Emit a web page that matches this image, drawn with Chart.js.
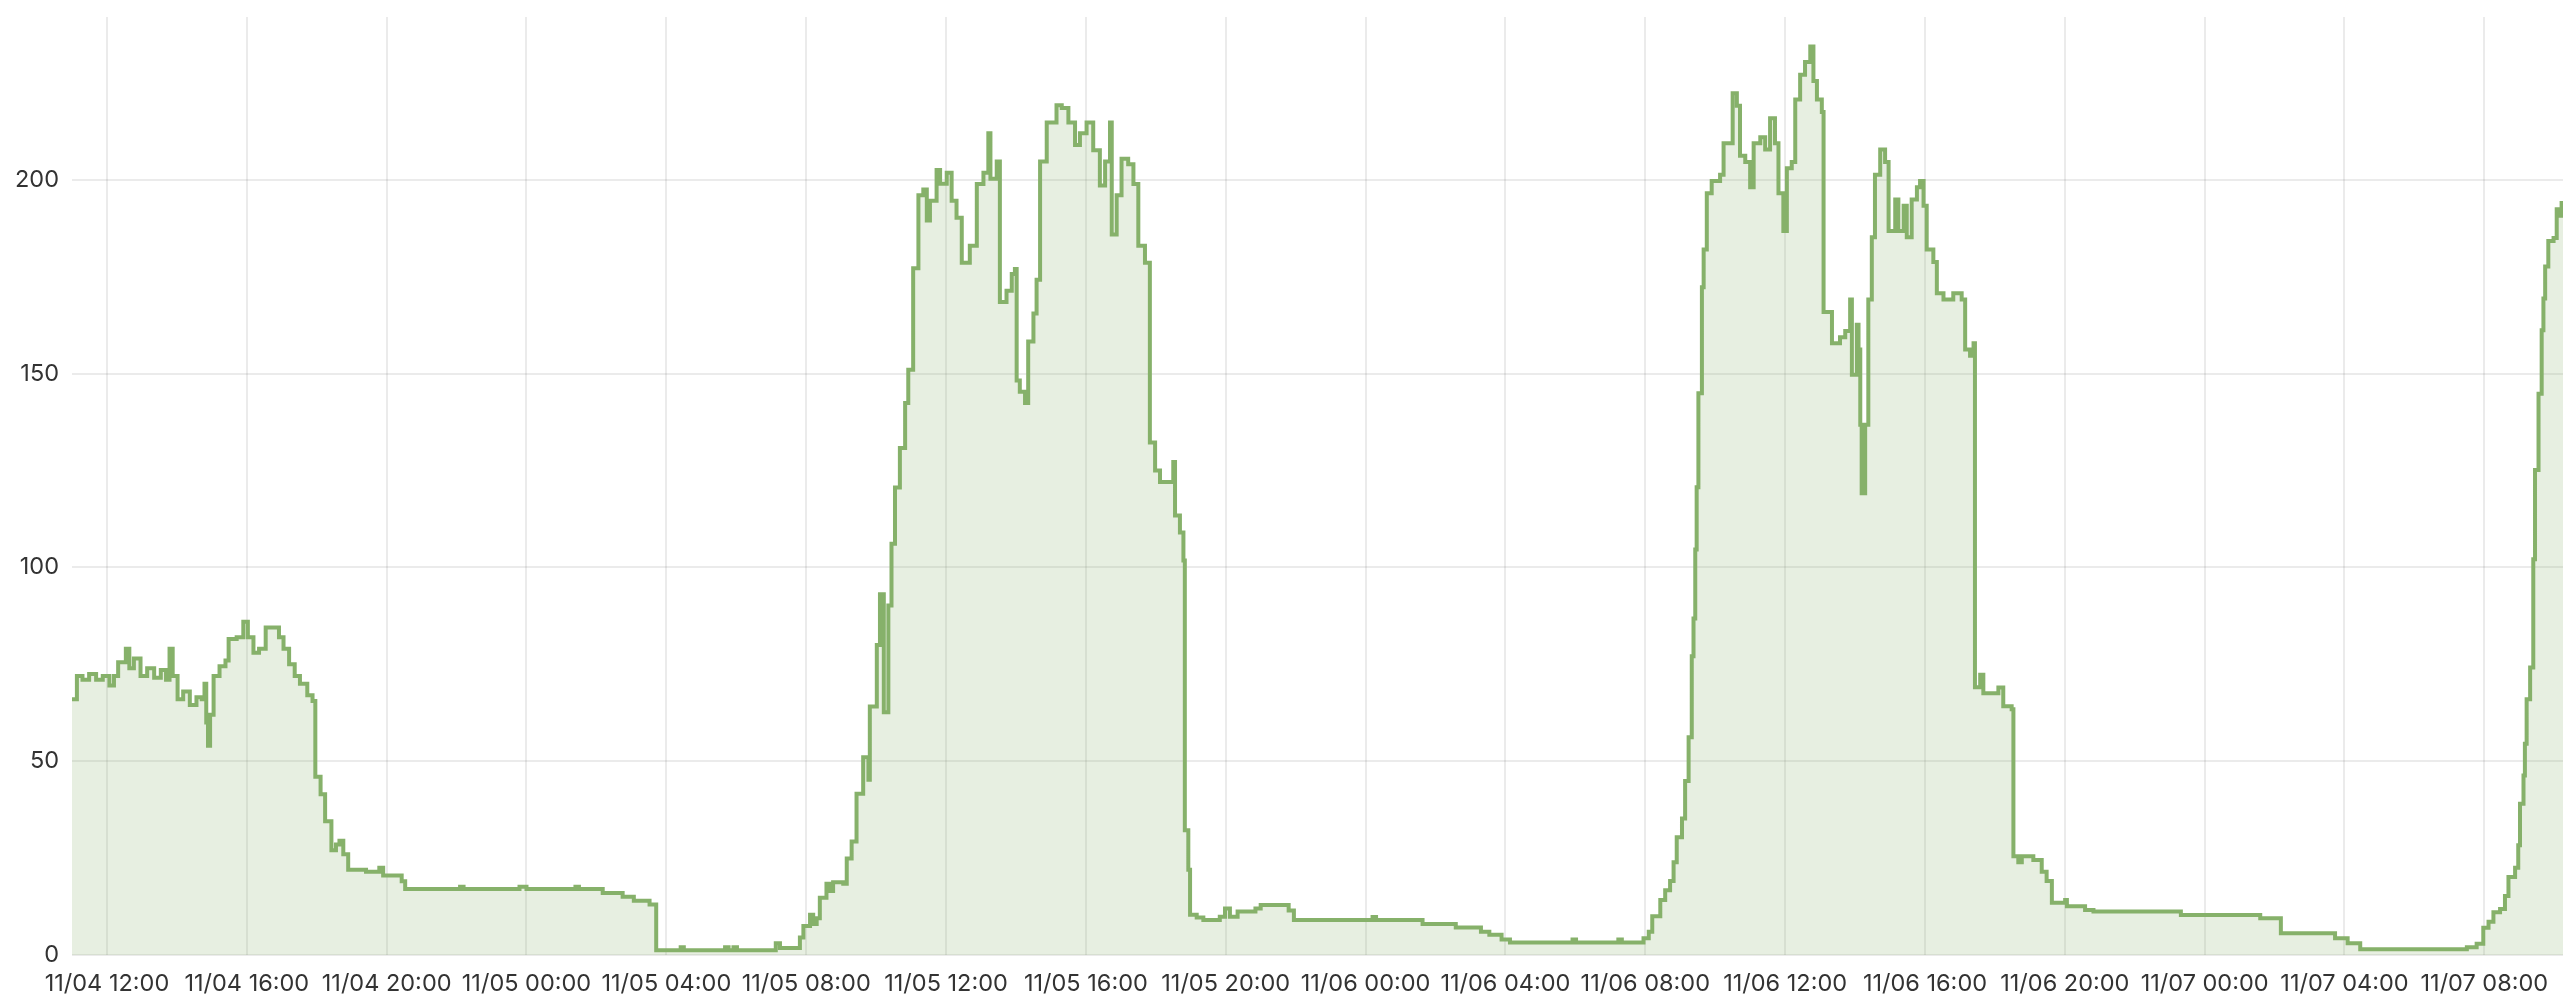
<!DOCTYPE html>
<html>
<head>
<meta charset="utf-8">
<script src="https://cdn.jsdelivr.net/npm/chart.js@4.4.1/dist/chart.umd.min.js"></script>
<style>
    html, body { margin: 0; padding: 0; background: #fff; }
    #wrap { width: 2563px; height: 997px; position: relative; }
</style>
</head>
<body>
<div id="wrap"><canvas id="history-chart"></canvas></div>
<script>
// hours counted from 11/04 00:00
const hours = [
    11.0, 11.14, 11.30, 11.49, 11.69, 11.88, 12.07, 12.20, 12.32, 12.54, 12.64, 12.77, 12.96, 13.15, 13.35, 13.54,
    13.69, 13.79, 13.88, 14.02, 14.18, 14.37, 14.56, 14.71, 14.79, 14.84, 14.89, 14.95, 15.05, 15.22, 15.39, 15.48,
    15.71, 15.90, 16.03, 16.19, 16.35, 16.54, 16.92, 17.05, 17.21, 17.37, 17.52, 17.73, 17.88, 17.96, 18.11, 18.24,
    18.42, 18.55, 18.65, 18.76, 18.90, 19.41, 19.79, 19.90, 20.43, 20.53, 22.10, 22.20, 23.80, 24.00, 25.40, 25.50,
    26.18, 26.75, 27.07, 27.52, 27.71,
    28.41, 28.50, 29.68, 29.78, 29.92, 30.02, 31.13, 31.25, 31.82, 31.92, 32.11, 32.20, 32.30, 32.39, 32.58, 32.68,
    32.77, 33.06, 33.16, 33.30, 33.44, 33.63, 33.78, 33.82, 34.02, 34.11, 34.22, 34.35, 34.44, 34.54, 34.68, 34.83,
    34.92, 35.06, 35.21, 35.35, 35.45, 35.54, 35.73, 35.83, 36.02, 36.16, 36.30, 36.45, 36.68, 36.88, 37.07, 37.21,
    37.27, 37.45, 37.54, 37.73, 37.88, 37.97, 38.02, 38.11, 38.26, 38.35, 38.50, 38.59, 38.69, 38.88, 39.16, 39.31,
    39.50, 39.69, 39.83, 40.02, 40.21, 40.40, 40.55, 40.69, 40.74, 40.88, 41.02, 41.21, 41.36, 41.50, 41.69, 41.83,
    41.98, 42.12, 42.50, 42.55, 42.69, 42.79, 42.83, 42.93, 42.98, 43.17, 43.36, 43.83, 43.98, 44.12, 44.34, 44.85,
    45.00, 45.66, 45.80, 45.95, 48.20, 48.30, 49.63, 50.58, 51.30, 51.54, 51.89, 52.13, 53.92, 54.02, 55.23, 55.33,
    55.95, 56.10, 56.20, 56.43, 56.57, 56.71, 56.81, 56.90, 57.05, 57.14, 57.24, 57.33, 57.38, 57.43, 57.47, 57.52,
    57.62, 57.67, 57.76, 57.90, 58.14, 58.24, 58.50, 58.62, 58.71, 58.86, 59.00, 59.10, 59.29, 59.43, 59.57, 59.71,
    59.81, 59.95, 60.05, 60.19, 60.29, 60.43, 60.57, 60.72, 60.81, 60.91, 61.05, 61.10, 61.34, 61.57, 61.72, 61.86,
    61.91, 62.05, 62.10, 62.15, 62.19, 62.29, 62.38, 62.48, 62.57, 62.72, 62.86, 62.96, 63.15, 63.24, 63.39, 63.48,
    63.62, 63.77, 63.86, 63.96, 64.05, 64.24, 64.34, 64.53, 64.81, 65.05, 65.15, 65.29, 65.39, 65.43, 65.58, 65.67,
    66.10, 66.24, 66.48, 66.53, 66.67, 66.77, 67.10, 67.34, 67.48, 67.63, 68.01, 68.06, 68.58, 68.82, 71.32, 73.59,
    74.18, 75.61, 75.73, 76.09, 76.45, 79.50, 79.78, 79.97, 80.12, 80.26, 80.45, 80.59, 80.69, 80.88, 80.97, 81.02,
    81.12, 81.16, 81.21, 81.31, 81.40, 81.45, 81.55, 81.64, 81.69, 81.74, 81.83, 81.98, 82.07, 82.17, 82.21, 82.40
];

const values = [
    66, 72, 71, 72.5, 71, 72, 69.5, 72, 75.5, 79, 74, 76.5, 72, 74, 71.5, 73.5,
    71, 79, 72, 66, 68, 64.5, 66.5, 66, 70, 60, 54, 62, 72, 74.5, 76, 81.5,
    82, 86, 82, 78, 79, 84.5, 82, 79, 75, 72, 70, 67, 65.5, 46, 41.5, 34.5,
    27, 28.5, 29.5, 26, 22, 21.5, 22.5, 20.5, 19, 17, 17.6, 17, 17.6, 17, 17.6, 17,
    16, 15, 14, 13, 1.2,
    2, 1.2, 2, 1.2, 2, 1.2, 3, 1.8, 4.5, 7.5, 10.4, 8, 9.5, 14.8, 18.4, 16.5,
    18.8, 18.4, 24.9, 29.3, 41.6, 51, 45.2, 64.1, 80, 93.1, 62.6, 90.2, 106.1, 120.6, 130.8, 142.4,
    151, 177.2, 196, 197.5, 189.5, 194.6, 202.5, 199, 201.8, 194.6, 190.2, 178.6, 183, 198.9, 201.8, 212,
    200.3, 204.7, 168.5, 171.4, 175.7, 177, 148.2, 145.3, 142.4, 158.3, 165.5, 174.2, 204.7, 214.8, 219.2, 218.5,
    214.8, 209, 212, 214.8, 207.6, 198.5, 204.7, 214.8, 185.9, 196, 205.4, 204, 198.9, 183, 178.6, 132.2,
    125, 122, 127.2, 113.4, 109, 101.8, 32.2, 22, 10.4, 9.7, 9, 9.9, 12, 9.9, 11.2, 12,
    12.9, 12.9, 11.5, 9, 9.8, 9, 8, 7.1, 6, 5.2, 4, 3.2, 4, 3.2, 4, 3.2,
    4.3, 6, 10, 14.2, 16.7, 19.1, 23.9, 30.4, 35.2, 44.9, 56.2, 77.1, 86.8, 104.6, 120.7, 144.9,
    172.3, 182, 196.5, 199.7, 201.3, 209.4, 222.3, 219.1, 206.2, 204.6, 198.1, 209.4, 211, 207.8, 215.9, 209.4,
    196.5, 186.8, 203, 204.6, 220.7, 227.1, 230.4, 234.4, 225.5, 220.7, 217.5, 165.9, 157.8, 159.4, 161, 169.1,
    149.7, 162.6, 156.2, 136.8, 119.1, 136.8, 169.1, 185.2, 201.3, 207.8, 204.6, 186.8, 194.9, 186.8, 193.3, 185.2,
    194.9, 198.1, 199.7, 193.3, 182, 178.8, 170.7, 169.1, 170.7, 169.1, 156.2, 154.6, 157.8, 69.1, 72.3, 67.5,
    69, 64.2, 63.4, 25.5, 23.9, 25.5, 24.5, 21.5, 19.1, 13.5, 14.2, 12.6, 11.6, 11.2, 10.3, 9.5,
    5.6, 5.6, 4.3, 3, 1.5, 2, 2.9, 7, 8.6, 11, 11.9, 15.2, 20.1, 22.5, 28.3, 39,
    46.3, 54.5, 66, 74.2, 102.1, 125.1, 144.8, 161.2, 169.4, 177.6, 184.2, 185, 192.4, 190.7, 194, 194
];

const xTickHours = [12, 16, 20, 24, 28, 32, 36, 40, 44, 48, 52, 56, 60, 64, 68, 72, 76, 80];
const xTickLabels = [
    '11/04 12:00', '11/04 16:00', '11/04 20:00', '11/05 00:00', '11/05 04:00', '11/05 08:00',
    '11/05 12:00', '11/05 16:00', '11/05 20:00', '11/06 00:00', '11/06 04:00', '11/06 08:00',
    '11/06 12:00', '11/06 16:00', '11/06 20:00', '11/07 00:00', '11/07 04:00', '11/07 08:00'
];
const yTicks = [0, 50, 100, 150, 200];

const lineColor = 'rgb(134, 177, 106)';
const fillColor = 'rgba(134, 177, 106, 0.2)';
const gridColor = 'rgba(0, 0, 0, 0.08)';
const labelFont = { family: 'Inter', size: 23.5 };

const points = hours.map((h, i) => ({ x: h, y: values[i] }));

const ctx = document.getElementById('history-chart');

new Chart(ctx, {
    type: 'line',
    data: {
        datasets: [{
            data: points,
            stepped: true,
            borderColor: lineColor,
            backgroundColor: fillColor,
            borderWidth: 4,
            fill: 'origin',
            pointRadius: 0,
            tension: 0
        }]
    },
    options: {
        responsive: true,
        maintainAspectRatio: false,
        animation: false,
        layout: {
            padding: { top: 17, right: 0, left: 0, bottom: 0 }
        },
        plugins: {
            legend: { display: false },
            tooltip: { enabled: false }
        },
        scales: {
            x: {
                type: 'linear',
                min: 11,
                max: 82.25,
                border: { display: false },
                grid: { color: gridColor, lineWidth: 2, drawTicks: false },
                afterBuildTicks: (axis) => {
                    axis.ticks = xTickHours.map(v => ({ value: v }));
                },
                afterFit: (scale) => {
                    scale.height = 42;
                    scale.paddingLeft = 0;
                    scale.paddingRight = 0;
                },
                ticks: {
                    autoSkip: false,
                    maxRotation: 0,
                    padding: 15,
                    color: '#333',
                    font: labelFont,
                    callback: (value) => xTickLabels[xTickHours.indexOf(value)]
                }
            },
            y: {
                min: 0,
                max: 242,
                border: { display: false },
                grid: { color: gridColor, lineWidth: 2, drawTicks: false },
                afterBuildTicks: (axis) => {
                    axis.ticks = yTicks.map(v => ({ value: v }));
                },
                afterFit: (scale) => {
                    scale.width = 72;
                    scale.paddingTop = 0;
                    scale.paddingBottom = 0;
                },
                ticks: {
                    padding: 13,
                    color: '#333',
                    font: labelFont
                }
            }
        }
    }
});
</script>
</body>
</html>
